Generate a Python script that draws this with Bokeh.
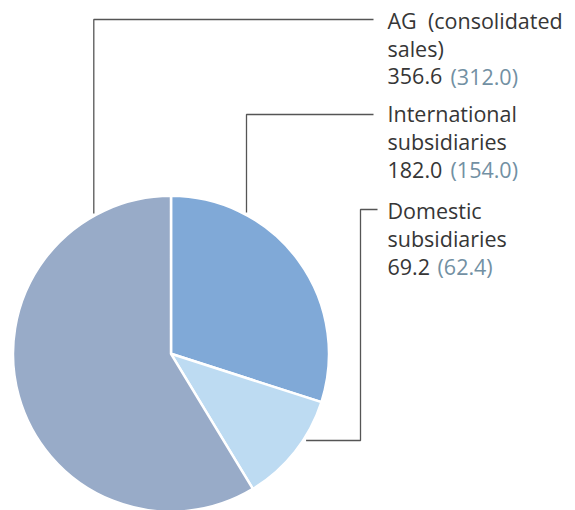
import math
from bokeh.plotting import figure
from bokeh.models import Range1d
from bokeh.core.properties import value
from bokeh.embed import file_html
from bokeh.resources import INLINE

# ---- data (slice order: clockwise from 12 o'clock) ----
segments = ["International subsidiaries", "Domestic subsidiaries", "AG (consolidated sales)"]
sales = [182.0, 69.2, 356.6]
prior_year = [154.0, 62.4, 312.0]
label_lines = [["International", "subsidiaries"],
               ["Domestic", "subsidiaries"],
               ["AG\u00a0\u00a0(consolidated", "sales)"]]
value_text = ["182.0", "69.2", "356.6"]
prior_text = ["(154.0)", "(62.4)", "(312.0)"]

# ---- styling / layout ----
colors = ["#80a9d7", "#bddbf2", "#98abc8"]
DARK = "#363636"
GREY = "#7290a3"
LINE = "#555555"
FONT = "Open Sans"
FS = "21.5px"

W, H = 575, 510
CX, CY, R = 170.5, 353.3, 158.0        # pie centre (screen px) and radius
TEXT_X = 387
block_baseline = [113.0, 210.0, 19.5]
LINE_GAP = 28.0
prior_x = [450, 437, 450]

p = figure(width=W, height=H, x_range=Range1d(0, W), y_range=Range1d(-H, 0),
           output_backend="svg", toolbar_location=None, min_border=0,
           x_axis_type=None, y_axis_type=None)
p.grid.visible = False
p.outline_line_color = None
p.background_fill_color = "white"
p.border_fill_color = "white"

# wedges
total = sum(sales)
starts, ends = [], []
a = math.pi / 2
for v in sales:
    starts.append(a)
    a = a - v / total * 2 * math.pi
    ends.append(a)
p.wedge(x=[CX] * 3, y=[-CY] * 3, radius=R, start_angle=starts, end_angle=ends,
        direction="clock", fill_color=colors, line_color="white", line_width=2.5)

# leader lines
def circle_top_y(x):
    return CY - math.sqrt(R * R - (x - CX) ** 2)

def circle_right_x(y):
    return CX + math.sqrt(R * R - (y - CY) ** 2)

x_int = 246.0
x_ag = 93.3
y_dom = 440.0
leaders_x = [
    [x_int, x_int, 373],
    [circle_right_x(y_dom) + 3, 360, 360, 377],
    [x_ag, x_ag, 373],
]
leaders_y = [
    [-(circle_top_y(x_int) - 2.5), -114, -114],
    [-y_dom, -y_dom, -209, -209],
    [-(circle_top_y(x_ag) - 2.5), -19, -19],
]
p.multi_line(xs=leaders_x, ys=leaders_y, line_color=LINE, line_width=1.3)

# labels
tx, ty, tt = [], [], []
for i, lines in enumerate(label_lines):
    for j, s in enumerate(lines):
        tx.append(TEXT_X)
        ty.append(-(block_baseline[i] + j * LINE_GAP))
        tt.append(s)
    tx.append(TEXT_X)
    ty.append(-(block_baseline[i] + len(lines) * LINE_GAP))
    tt.append(value_text[i])
p.text(x=tx, y=ty, text=tt, text_font=value(FONT), text_font_size=FS,
       text_color=DARK, text_baseline="alphabetic", text_align="left")

gx = prior_x
gy = [-(block_baseline[i] + len(label_lines[i]) * LINE_GAP) for i in range(3)]
p.text(x=gx, y=gy, text=prior_text, text_font=value(FONT), text_font_size=FS,
       text_color=GREY, text_baseline="alphabetic", text_align="left")

open("out.html", "w").write(file_html(p, INLINE))
